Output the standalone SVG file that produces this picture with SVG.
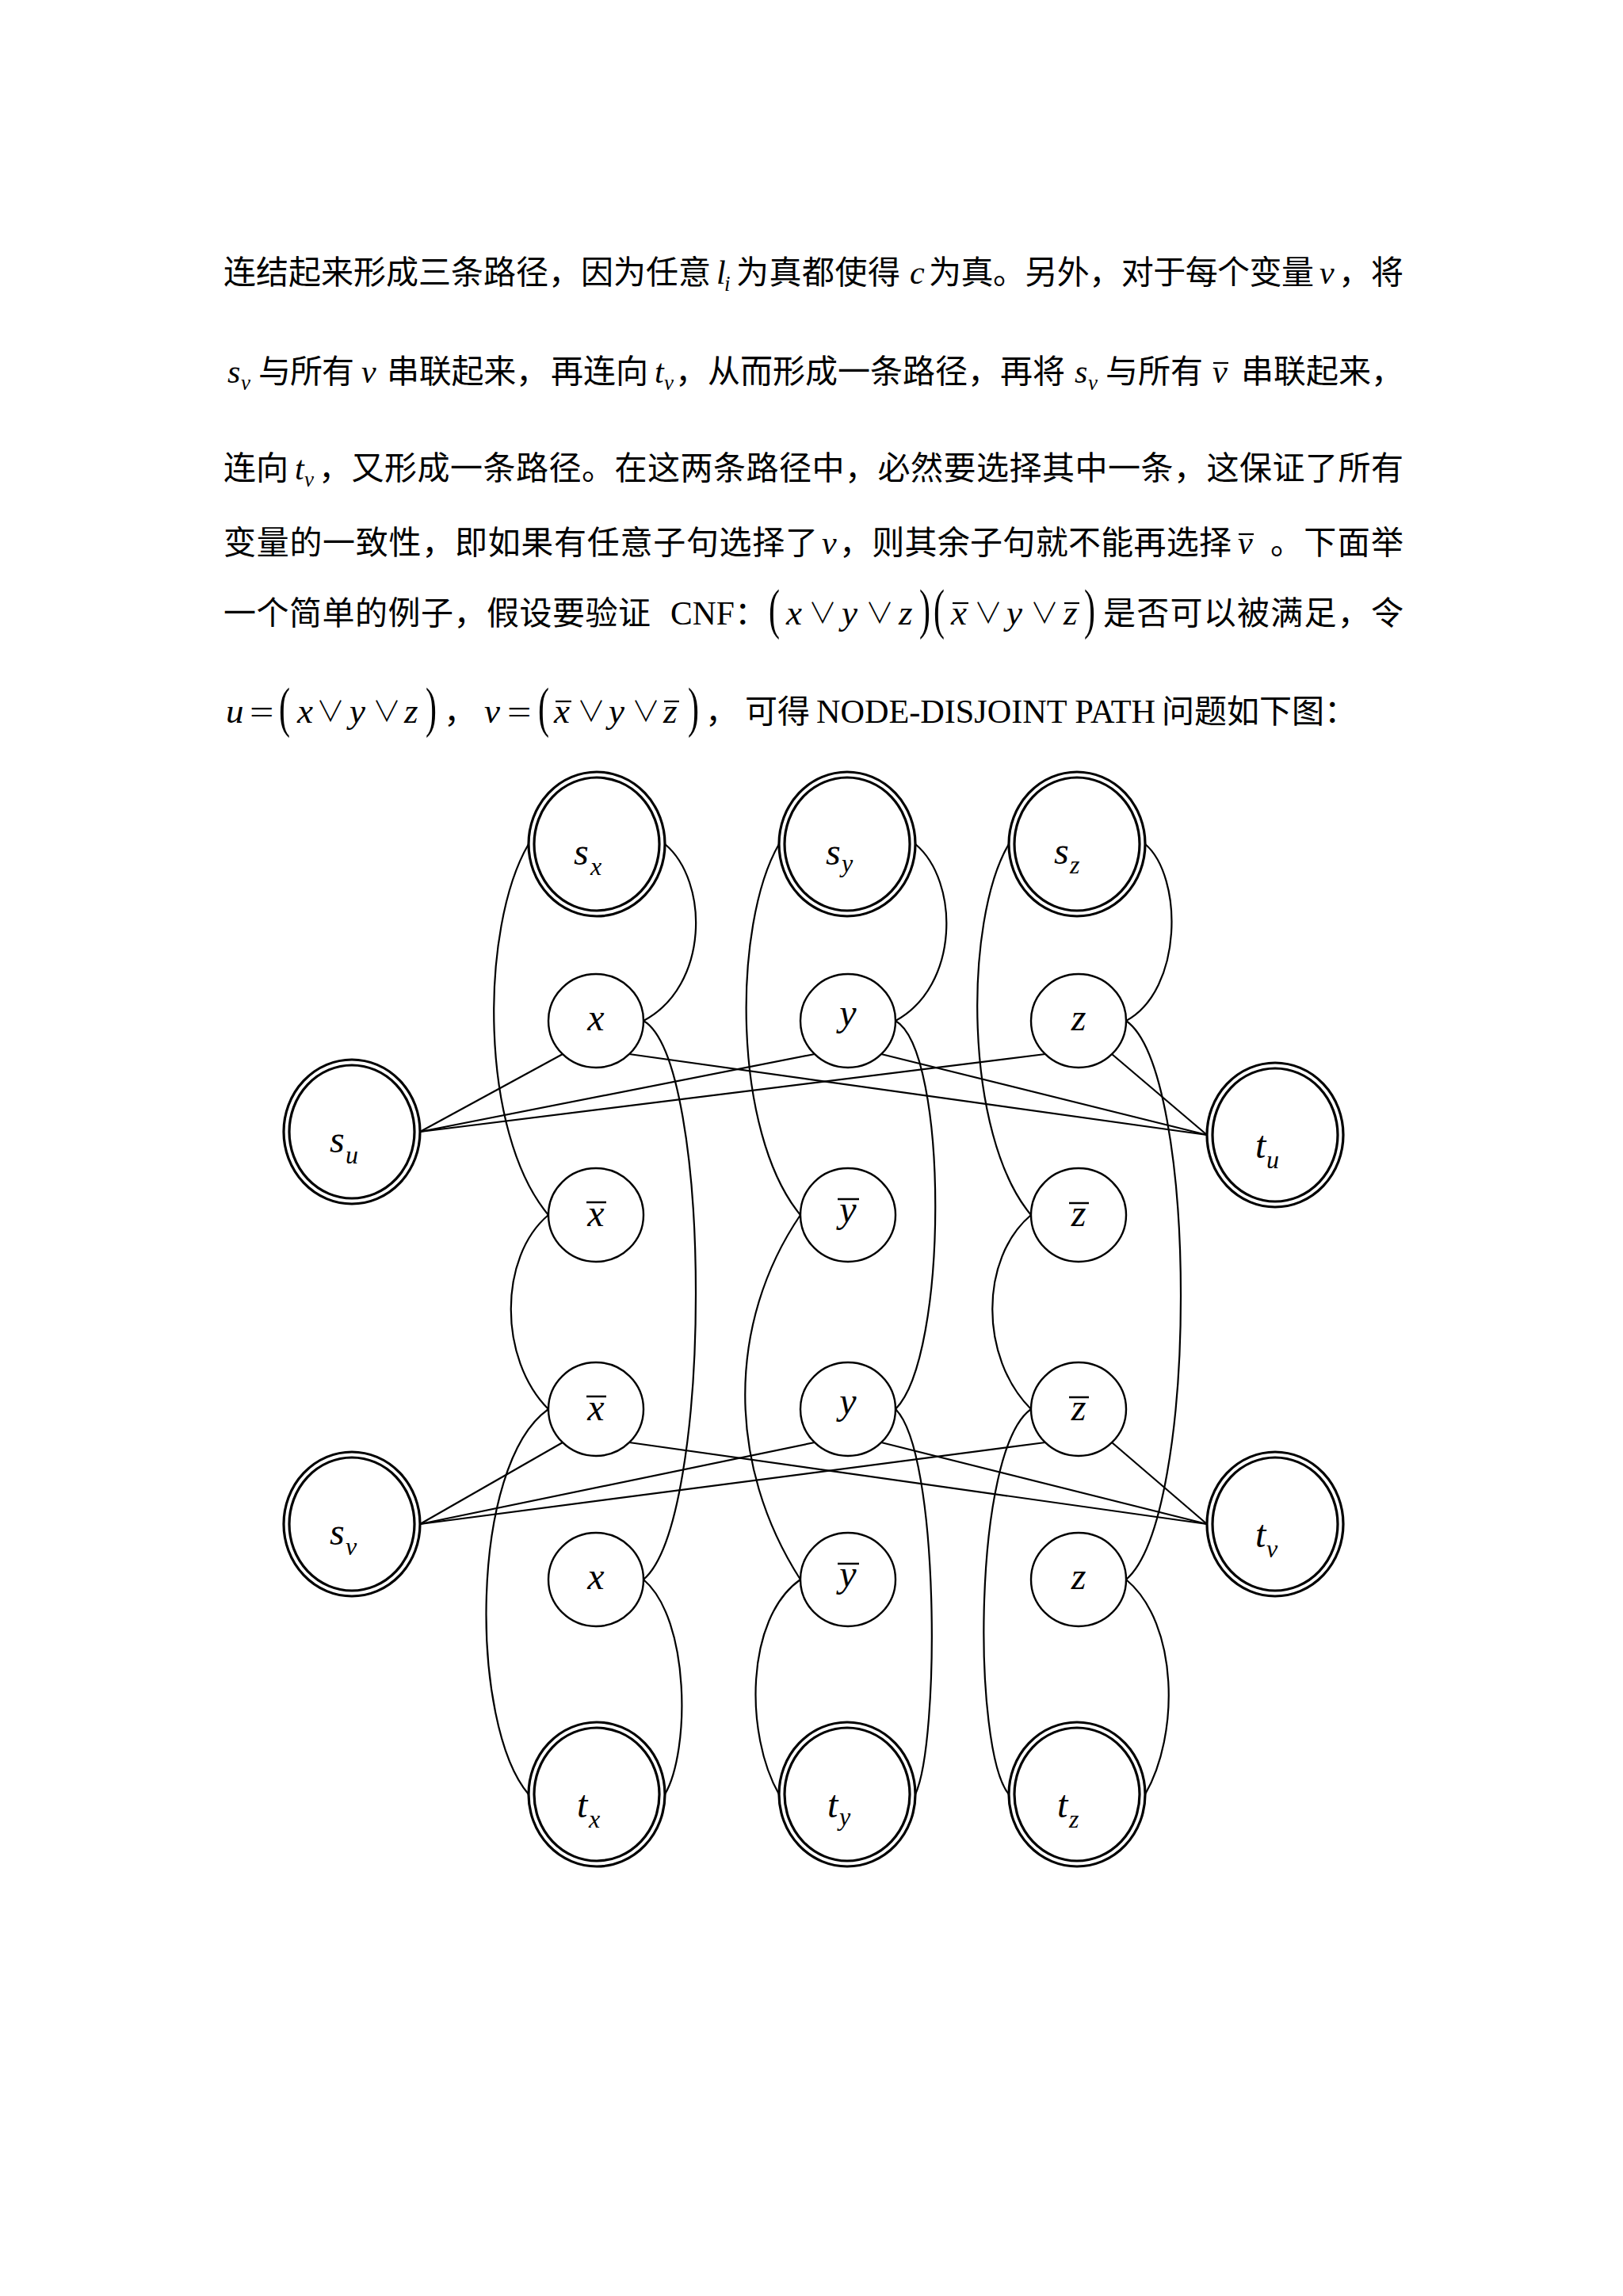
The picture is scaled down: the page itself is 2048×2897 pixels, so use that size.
<svg xmlns="http://www.w3.org/2000/svg" width="2048" height="2897" viewBox="0 0 2048 2897">
<style>
.cn{font-family:"Noto Sans CJK SC","Noto Sans CJK JP",sans-serif;font-size:41px;fill:#000}
.rm{font-family:"Liberation Serif","Times New Roman",serif;font-size:41.5px;fill:#000}
.it{font-family:"Liberation Serif","Times New Roman",serif;font-style:italic;font-size:42px;fill:#000}
.mi{font-family:"Liberation Serif","Times New Roman",serif;font-style:italic;font-size:45px;fill:#000}
.sub{font-family:"Liberation Serif","Times New Roman",serif;font-style:italic;font-size:27px;fill:#000}
.op{font-family:"Noto Sans CJK SC","DejaVu Sans",sans-serif;font-size:36px;font-weight:300;fill:#000;text-anchor:middle}
.par{font-family:"Liberation Serif","Times New Roman",serif;font-size:42px;fill:#000}
.bar{stroke:#000;stroke-width:2.2}
.lbl{font-family:"Liberation Serif","Times New Roman",serif;font-style:italic;font-size:48px;fill:#000}
.lsub{font-family:"Liberation Serif","Times New Roman",serif;font-style:italic;font-size:32px;fill:#000}
.edge{fill:none;stroke:#000;stroke-width:2.2}
.n1{fill:#fff;stroke:#000;stroke-width:2.4}
.n2{fill:#fff;stroke:#000;stroke-width:3.2}
.n2i{fill:none;stroke:#000;stroke-width:3.2}
.nb{stroke:#000;stroke-width:2.5}
</style>
<rect width="2048" height="2897" fill="#fff"/>

<g id="text">
<!-- line 1 -->
<text class="cn" x="282" y="358" textLength="615" lengthAdjust="spacing">连结起来形成三条路径，因为任意</text>
<text class="it" x="904" y="358">l</text><text class="sub" x="914" y="367">i</text>
<text class="cn" x="929" y="358" textLength="207" lengthAdjust="spacing">为真都使得</text>
<text class="it" x="1148" y="358">c</text>
<text class="cn" x="1172" y="358" textLength="486" lengthAdjust="spacing">为真。另外，对于每个变量</text>
<text class="it" x="1665" y="358">v</text>
<text class="cn" x="1689" y="358" textLength="82" lengthAdjust="spacing">，将</text>
<!-- line 2 -->
<text class="it" x="287" y="483">s</text><text class="sub" x="304" y="492">v</text>
<text class="cn" x="326" y="483" textLength="121" lengthAdjust="spacing">与所有</text>
<text class="it" x="456" y="483">v</text>
<text class="cn" x="488" y="483" textLength="204" lengthAdjust="spacing">串联起来，</text>
<text class="cn" x="695" y="483" textLength="123" lengthAdjust="spacing">再连向</text>
<text class="it" x="826" y="483">t</text><text class="sub" x="838" y="492">v</text>
<text class="cn" x="852" y="483" textLength="492" lengthAdjust="spacing">，从而形成一条路径，再将</text>
<text class="it" x="1356" y="483">s</text><text class="sub" x="1373" y="492">v</text>
<text class="cn" x="1395" y="483" textLength="123" lengthAdjust="spacing">与所有</text>
<text class="it" x="1530" y="483">v</text><line class="bar" x1="1531" y1="458" x2="1550" y2="458"/>
<text class="cn" x="1566" y="483" textLength="205" lengthAdjust="spacing">串联起来，</text>
<!-- line 3 -->
<text class="cn" x="282" y="605" textLength="82" lengthAdjust="spacing">连向</text>
<text class="it" x="372" y="605">t</text><text class="sub" x="384" y="614">v</text>
<text class="cn" x="402" y="605" textLength="1369" lengthAdjust="spacing">，又形成一条路径。在这两条路径中，必然要选择其中一条，这保证了所有</text>
<!-- line 4 -->
<text class="cn" x="282" y="699" textLength="750" lengthAdjust="spacing">变量的一致性，即如果有任意子句选择了</text>
<text class="it" x="1037" y="699">v</text>
<text class="cn" x="1059" y="699" textLength="495" lengthAdjust="spacing">，则其余子句就不能再选择</text>
<text class="it" x="1562" y="699">v</text><line class="bar" x1="1563" y1="674" x2="1582" y2="674"/>
<text class="cn" x="1603" y="699" textLength="168" lengthAdjust="spacing">。下面举</text>
<!-- line 5 -->
<text class="cn" x="282" y="788" textLength="539" lengthAdjust="spacing">一个简单的例子，假设要验证</text>
<text class="rm" x="846" y="788">CNF</text>
<text class="cn" x="927" y="788">：</text>
<text class="par" transform="translate(970,792) scale(1,1.65)">(</text>
<text class="mi" x="992" y="788">x</text>
<text class="op" x="1038" y="787">∨</text>
<text class="mi" x="1062" y="788">y</text>
<text class="op" x="1110" y="787">∨</text>
<text class="mi" x="1134" y="788">z</text>
<text class="par" transform="translate(1160,792) scale(1,1.65)">)</text>
<text class="par" transform="translate(1178,792) scale(1,1.65)">(</text>
<text class="mi" x="1200" y="788">x</text><line class="bar" x1="1202" y1="761" x2="1222" y2="761"/>
<text class="op" x="1247" y="787">∨</text>
<text class="mi" x="1270" y="788">y</text>
<text class="op" x="1318" y="787">∨</text>
<text class="mi" x="1342" y="788">z</text><line class="bar" x1="1343" y1="761" x2="1362" y2="761"/>
<text class="par" transform="translate(1368,792) scale(1,1.65)">)</text>
<text class="cn" x="1392" y="788" textLength="379" lengthAdjust="spacing">是否可以被满足，令</text>
<!-- line 6 -->
<text class="mi" x="285" y="912">u</text>
<text class="rm" transform="translate(315,912) scale(1.3,1)">=</text>
<text class="par" transform="translate(352,916) scale(1,1.65)">(</text>
<text class="mi" x="375" y="912">x</text>
<text class="op" x="417" y="911">∨</text>
<text class="mi" x="441" y="912">y</text>
<text class="op" x="488" y="911">∨</text>
<text class="mi" x="510" y="912">z</text>
<text class="par" transform="translate(537,916) scale(1,1.65)">)</text>
<text class="cn" x="560" y="912">，</text>
<text class="mi" x="611" y="912">v</text>
<text class="rm" transform="translate(640,912) scale(1.3,1)">=</text>
<text class="par" transform="translate(679,916) scale(1,1.65)">(</text>
<text class="mi" x="699" y="912">x</text><line class="bar" x1="701" y1="885" x2="721" y2="885"/>
<text class="op" x="746" y="911">∨</text>
<text class="mi" x="768" y="912">y</text>
<text class="op" x="815" y="911">∨</text>
<text class="mi" x="837" y="912">z</text><line class="bar" x1="838" y1="885" x2="857" y2="885"/>
<text class="par" transform="translate(868,916) scale(1,1.65)">)</text>
<text class="cn" x="890" y="912">，</text>
<text class="cn" x="940" y="912" textLength="82" lengthAdjust="spacing">可得</text>
<text class="rm" x="1030" y="912" textLength="428" lengthAdjust="spacingAndGlyphs">NODE-DISJOINT PATH</text>
<text class="cn" x="1466" y="912">问题如下图：</text>
</g>

<g id="connectors">
<!-- x column -->
<path class="edge" d="M839,1065 C895,1112 895,1244 812,1288"/>
<path class="edge" d="M667,1065 C605,1171 605,1430 692,1533"/>
<path class="edge" d="M812,1288 C900,1339 900,1919 812,1993"/>
<path class="edge" d="M692,1533 C629,1586 629,1715 692,1778"/>
<path class="edge" d="M692,1778 C592,1848 592,2176 667,2264"/>
<path class="edge" d="M812,1993 C871,2043 871,2209 839,2264"/>
<!-- y column -->
<path class="edge" d="M1155,1065 C1211,1112 1211,1244 1130,1288"/>
<path class="edge" d="M983,1065 C924,1167 924,1429 1010,1533"/>
<path class="edge" d="M1130,1288 C1197,1326 1197,1711 1130,1778"/>
<path class="edge" d="M1010,1533 C917,1670 917,1848 1010,1993"/>
<path class="edge" d="M1130,1778 C1186,1833 1186,2198 1155,2264"/>
<path class="edge" d="M1010,1993 C940,2042 940,2189 983,2264"/>
<!-- z column -->
<path class="edge" d="M1445,1065 C1493,1106 1493,1249 1421,1288"/>
<path class="edge" d="M1273,1065 C1216,1161 1216,1432 1301,1533"/>
<path class="edge" d="M1421,1288 C1513,1352 1513,1914 1421,1993"/>
<path class="edge" d="M1301,1533 C1236,1588 1236,1713 1301,1778"/>
<path class="edge" d="M1301,1778 C1227,1830 1227,2209 1273,2264"/>
<path class="edge" d="M1421,1993 C1488,2049 1488,2190 1445,2264"/>
<!-- clause u -->
<path class="edge" d="M530,1428 L710,1330"/>
<path class="edge" d="M530,1428 L1028,1330"/>
<path class="edge" d="M530,1428 L1319,1330"/>
<path class="edge" d="M1523,1432 L794,1330"/>
<path class="edge" d="M1523,1432 L1112,1330"/>
<path class="edge" d="M1523,1432 L1403,1330"/>
<!-- clause v -->
<path class="edge" d="M530,1923 L710,1820"/>
<path class="edge" d="M530,1923 L1028,1820"/>
<path class="edge" d="M530,1923 L1319,1820"/>
<path class="edge" d="M1523,1923 L794,1820"/>
<path class="edge" d="M1523,1923 L1112,1820"/>
<path class="edge" d="M1523,1923 L1403,1820"/>
</g>

<!-- double nodes -->
<g id="node-sx"><ellipse class="n2" cx="753" cy="1065" rx="86" ry="91"/><ellipse class="n2i" cx="753" cy="1065" rx="79" ry="84"/><text class="lbl" x="724" y="1091">s</text><text class="lsub" x="745" y="1104">x</text></g>
<g id="node-sy"><ellipse class="n2" cx="1069" cy="1065" rx="86" ry="91"/><ellipse class="n2i" cx="1069" cy="1065" rx="79" ry="84"/><text class="lbl" x="1042" y="1091">s</text><text class="lsub" x="1062" y="1100">y</text></g>
<g id="node-sz"><ellipse class="n2" cx="1359" cy="1065" rx="86" ry="91"/><ellipse class="n2i" cx="1359" cy="1065" rx="79" ry="84"/><text class="lbl" x="1330" y="1090">s</text><text class="lsub" x="1350" y="1102">z</text></g>
<g id="node-su"><ellipse class="n2" cx="444" cy="1428" rx="86" ry="91"/><ellipse class="n2i" cx="444" cy="1428" rx="79" ry="84"/><text class="lbl" x="416" y="1454">s</text><text class="lsub" x="436" y="1468">u</text></g>
<g id="node-tu"><ellipse class="n2" cx="1609" cy="1432" rx="86" ry="91"/><ellipse class="n2i" cx="1609" cy="1432" rx="79" ry="84"/><text class="lbl" x="1584" y="1461">t</text><text class="lsub" x="1598" y="1474">u</text></g>
<g id="node-sv"><ellipse class="n2" cx="444" cy="1923" rx="86" ry="91"/><ellipse class="n2i" cx="444" cy="1923" rx="79" ry="84"/><text class="lbl" x="416" y="1949">s</text><text class="lsub" x="436" y="1962">v</text></g>
<g id="node-tv"><ellipse class="n2" cx="1609" cy="1923" rx="86" ry="91"/><ellipse class="n2i" cx="1609" cy="1923" rx="79" ry="84"/><text class="lbl" x="1584" y="1952">t</text><text class="lsub" x="1598" y="1965">v</text></g>
<g id="node-tx"><ellipse class="n2" cx="753" cy="2264" rx="86" ry="91"/><ellipse class="n2i" cx="753" cy="2264" rx="79" ry="84"/><text class="lbl" x="728" y="2293">t</text><text class="lsub" x="743" y="2306">x</text></g>
<g id="node-ty"><ellipse class="n2" cx="1069" cy="2264" rx="86" ry="91"/><ellipse class="n2i" cx="1069" cy="2264" rx="79" ry="84"/><text class="lbl" x="1044" y="2293">t</text><text class="lsub" x="1059" y="2303">y</text></g>
<g id="node-tz"><ellipse class="n2" cx="1359" cy="2264" rx="86" ry="91"/><ellipse class="n2i" cx="1359" cy="2264" rx="79" ry="84"/><text class="lbl" x="1334" y="2293">t</text><text class="lsub" x="1349" y="2306">z</text></g>

<!-- literal nodes: row 1 (clause u) -->
<g id="node-x1"><ellipse class="n1" cx="752" cy="1288" rx="60" ry="59"/><text class="lbl" x="752" y="1300" text-anchor="middle">x</text></g>
<g id="node-y1"><ellipse class="n1" cx="1070" cy="1288" rx="60" ry="59"/><text class="lbl" x="1070" y="1294" text-anchor="middle">y</text></g>
<g id="node-z1"><ellipse class="n1" cx="1361" cy="1288" rx="60" ry="59"/><text class="lbl" x="1361" y="1300" text-anchor="middle">z</text></g>
<!-- row 2 -->
<g id="node-xbar2"><ellipse class="n1" cx="752" cy="1533" rx="60" ry="59"/><text class="lbl" x="752" y="1547" text-anchor="middle">x</text><line class="nb" x1="740" y1="1517" x2="765" y2="1517"/></g>
<g id="node-ybar2"><ellipse class="n1" cx="1070" cy="1533" rx="60" ry="59"/><text class="lbl" x="1070" y="1542" text-anchor="middle">y</text><line class="nb" x1="1057" y1="1513" x2="1084" y2="1513"/></g>
<g id="node-zbar2"><ellipse class="n1" cx="1361" cy="1533" rx="60" ry="59"/><text class="lbl" x="1361" y="1547" text-anchor="middle">z</text><line class="nb" x1="1349" y1="1518" x2="1374" y2="1518"/></g>
<!-- row 3 (clause v) -->
<g id="node-xbar3"><ellipse class="n1" cx="752" cy="1778" rx="60" ry="59"/><text class="lbl" x="752" y="1792" text-anchor="middle">x</text><line class="nb" x1="740" y1="1762" x2="765" y2="1762"/></g>
<g id="node-y3"><ellipse class="n1" cx="1070" cy="1778" rx="60" ry="59"/><text class="lbl" x="1070" y="1784" text-anchor="middle">y</text></g>
<g id="node-zbar3"><ellipse class="n1" cx="1361" cy="1778" rx="60" ry="59"/><text class="lbl" x="1361" y="1792" text-anchor="middle">z</text><line class="nb" x1="1349" y1="1763" x2="1374" y2="1763"/></g>
<!-- row 4 -->
<g id="node-x4"><ellipse class="n1" cx="752" cy="1993" rx="60" ry="59"/><text class="lbl" x="752" y="2005" text-anchor="middle">x</text></g>
<g id="node-ybar4"><ellipse class="n1" cx="1070" cy="1993" rx="60" ry="59"/><text class="lbl" x="1070" y="2002" text-anchor="middle">y</text><line class="nb" x1="1057" y1="1973" x2="1084" y2="1973"/></g>
<g id="node-z4"><ellipse class="n1" cx="1361" cy="1993" rx="60" ry="59"/><text class="lbl" x="1361" y="2005" text-anchor="middle">z</text></g>
</svg>
